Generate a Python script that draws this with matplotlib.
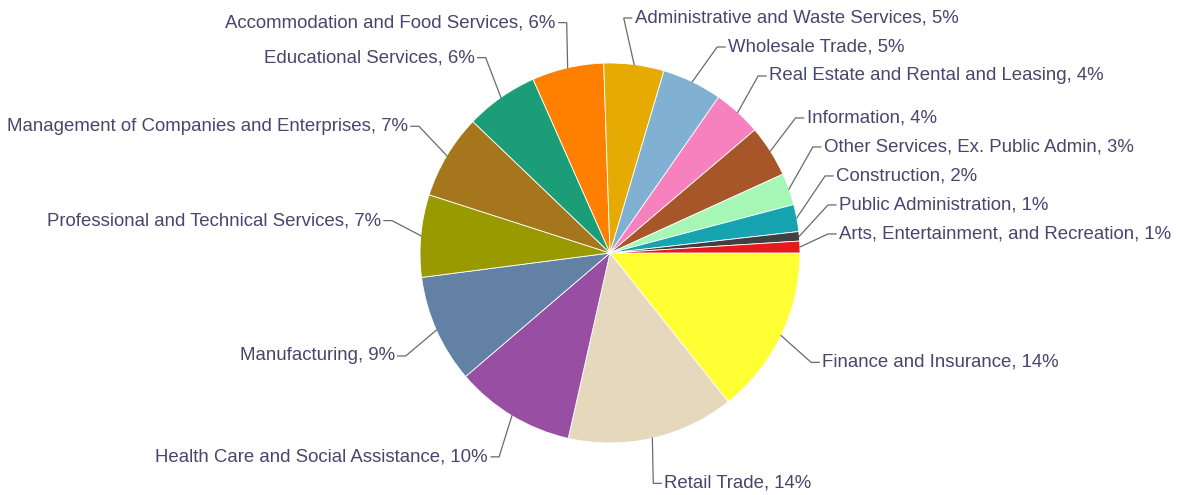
import numpy as np
import matplotlib
matplotlib.use("Agg")
import matplotlib.pyplot as plt

# -------------------------------------------------------
# Data: share of businesses by industry (percent)
# -------------------------------------------------------

industries = [
    'Finance and Insurance', 'Retail Trade', 'Health Care and Social Assistance',
    'Manufacturing', 'Professional and Technical Services',
    'Management of Companies and Enterprises', 'Educational Services',
    'Accommodation and Food Services', 'Administrative and Waste Services',
    'Wholesale Trade', 'Real Estate and Rental and Leasing', 'Information',
    'Other Services, Ex. Public Admin', 'Construction', 'Public Administration',
    'Arts, Entertainment, and Recreation',
]
shares = [14.3, 14.2, 10.2, 9.2, 7.0, 7.2, 6.2, 6.1, 5.1, 5.1, 4.1, 4.4, 2.7, 2.3, 0.8, 1.0]
colors = ['#ffff33', '#e5d8bd', '#984ea3', '#6281a5', '#999900', '#a6761d',
          '#1b9e77', '#ff7f00', '#e6ab02', '#80b1d3', '#f781bf', '#a65628',
          '#a6f7b5', '#16a5b0', '#404040', '#e41a1c']

W, H = 1177, 495
cx, cy, r = 610, H - 253, 190
text_color = '#46466e'
line_color = '#6a6a6a'

fig = plt.figure(figsize=(W / 100, H / 100), dpi=100)
ax = fig.add_axes([0, 0, 1, 1])
ax.pie(shares, colors=colors, startangle=0, counterclock=False,
       center=(cx, cy), radius=r,
       wedgeprops=dict(edgecolor='white', linewidth=0.6))
ax.set_xlim(0, W)
ax.set_ylim(0, H)
ax.set_aspect('equal')
ax.axis('off')

# -------------------------------------------------------
# Labels with connectors (clockwise angles from 3 o'clock)
# -------------------------------------------------------
total = sum(shares)
ends = np.cumsum(shares) / total * 360
starts = ends - np.array(shares) / total * 360
mids = np.radians((starts + ends) / 2)

R = 236
gap = 29
labels = []
for name, v, a in zip(industries, shares, mids):
    dx, s = np.cos(a), np.sin(a)      # s > 0 means below the centre
    side = 1 if dx >= 0 else -1
    y = cy - R * s - 12 * np.sign(s) * (1 - abs(s))
    labels.append(dict(text=f'{name}, {round(v / total * 100)}%', a=a,
                       side=side, y=y))

# resolve overlaps per side: push upward from the bottom, then clamp top
for side in (1, -1):
    grp = sorted([l for l in labels if l['side'] == side], key=lambda l: l['y'])
    for i in range(1, len(grp)):
        if grp[i]['y'] - grp[i - 1]['y'] < gap:
            grp[i]['y'] = grp[i - 1]['y'] + gap
    top = H - 18
    for i in range(len(grp) - 1, -1, -1):
        if grp[i]['y'] > top:
            grp[i]['y'] = top
        top = grp[i]['y'] - gap

for l in labels:
    a, side, y = l['a'], l['side'], l['y']
    hx = np.sqrt(max(R ** 2 - (y - cy) ** 2, 0))
    hx = min(hx, 226)
    lx = cx + side * hx
    ex = cx + r * np.cos(a)
    ey = cy - r * np.sin(a)
    bx = lx - side * 8
    ax.plot([ex, bx, lx], [ey, y, y], color=line_color, lw=0.9,
            solid_joinstyle='miter')
    ax.text(lx + side * 3, y, l['text'], ha='left' if side > 0 else 'right',
            va='center', fontsize=13.4, color=text_color,
            family='Liberation Sans')

fig.savefig('out.png', dpi=100)
